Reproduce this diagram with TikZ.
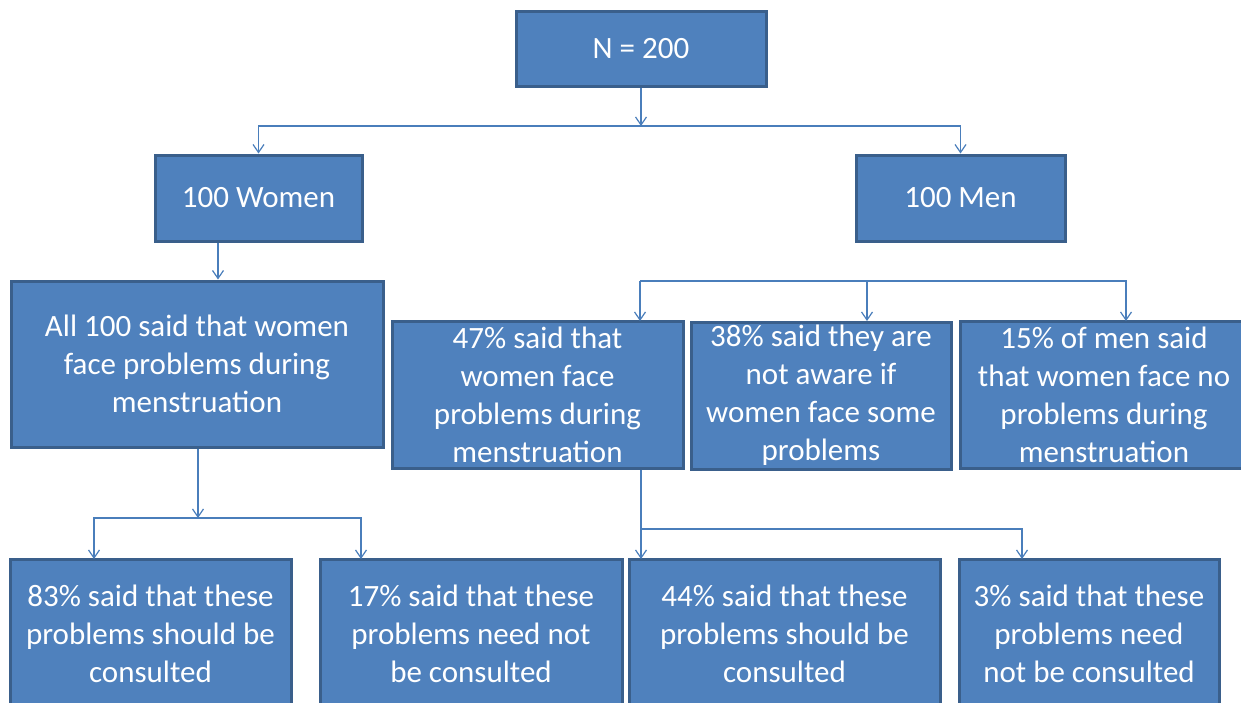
\documentclass[tikz,border=0pt]{standalone}
\usepackage{fontspec}
\setmainfont{Carlito}
\usetikzlibrary{arrows.meta,calc}
\definecolor{boxfill}{HTML}{4F81BD}
\definecolor{boxline}{HTML}{3A5F8B}
\definecolor{connc}{HTML}{4A7EBB}
\tikzset{
  box/.style={draw=boxline, fill=boxfill, line width=3pt, inner sep=0pt,
    text=white, align=center, font=\fontsize{31}{38}\selectfont},
  conn/.style={draw=connc, line width=1.5pt},
  arr/.style={conn, -{Straight Barb[length=8pt,width=11pt,line width=1.2pt]}}
}
\begin{document}
\begin{tikzpicture}[x=1pt,y=-1pt]
\useasboundingbox (0,0) rectangle (1241,702);
\clip (0,0) rectangle (1241,702);
% boxes
\node[box, minimum width=250pt, minimum height=75pt] (N) at (641,48.5) {N = 200};
\node[box, minimum width=207pt, minimum height=86pt] (women) at (258.5,198) {100 Women};
\node[box, minimum width=209pt, minimum height=86pt] (men) at (960.5,198) {100 Men};
\node[box, minimum width=372pt, minimum height=166pt] (all) at (197,364) {All 100 said that women\\face problems during\\menstruation};
\node[box, minimum width=291pt, minimum height=147pt] (m47) at (537.5,394.5) {47\% said that\\women face\\problems during\\menstruation};
\node[box, minimum width=260pt, minimum height=147pt] (m38) at (821,395.5) {38\% said they are\\not aware if\\women face some\\problems};
\node[box, minimum width=288pt, minimum height=147pt] (m15) at (1104,394.5) {15\% of men said\\that women face no\\problems during\\menstruation};
\node[box, minimum width=281pt, minimum height=150pt] (b83) at (150.5,634) {83\% said that these\\problems should be\\consulted};
\node[box, minimum width=302pt, minimum height=150pt] (b17) at (471,634) {17\% said that these\\problems need not\\be consulted};
\node[box, minimum width=311pt, minimum height=150pt] (b44) at (784.5,634) {44\% said that these\\problems should be\\consulted};
\node[box, minimum width=260pt, minimum height=150pt] (b3) at (1089,634) {3\% said that these\\problems need\\not be consulted};
% junctions and arrow targets
\coordinate (j1) at (641,126);
\coordinate (j2) at (198,518);
\coordinate (j3) at (641,529);
\coordinate (j4) at (640,281);
\coordinate (t83) at (94,559);
\coordinate (t17) at (361,559);
\coordinate (t3) at (1022,559);
\coordinate (t47) at (640,321);
\coordinate (t38) at (867,321);
\coordinate (t15) at (1126,321);
% connectors
\draw[arr] (N.south) -- (j1);
\draw[arr] (j1) -| (women.north);
\draw[arr] (j1) -| (men.north);
\draw[arr] ([xshift=-40.5pt]women.south) -- ([xshift=21pt]all.north);
\draw[arr] (j4) -- (t47);
\draw[arr] (j4) -| (t38);
\draw[arr] (j4) -| (t15);
\draw[arr] (all.south -| j2) -- (j2);
\draw[arr] (j2) -| (t83);
\draw[arr] (j2) -| (t17);
\draw[arr] (m47.south -| j3) -- (t3 -| j3);
\draw[arr] (j3) -| (t3);
\end{tikzpicture}
\end{document}
